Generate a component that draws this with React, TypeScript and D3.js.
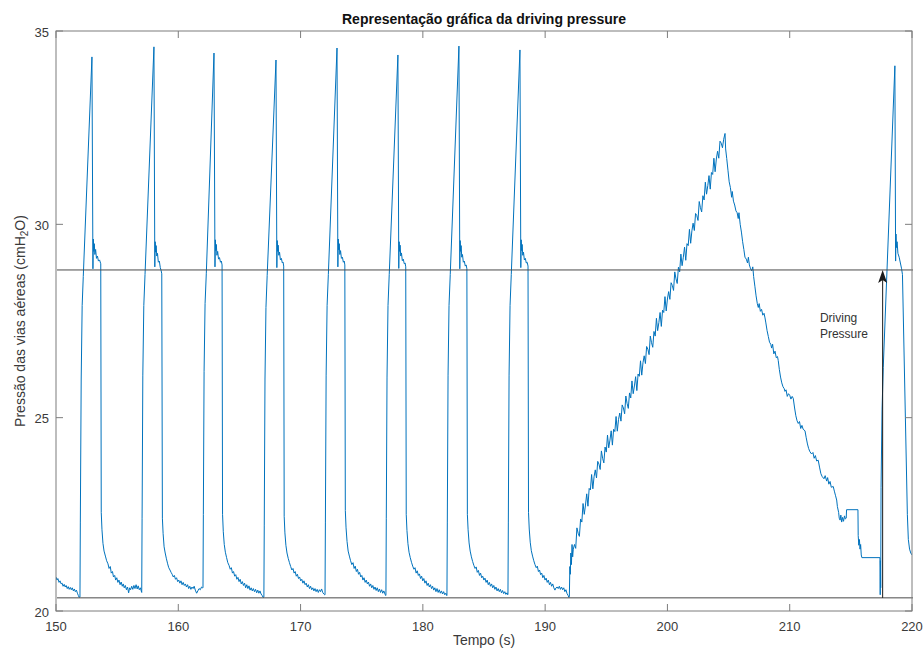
import React from 'react';
import * as d3 from 'd3';

// Airway pressure trace (time in s, pressure in cmH2O)
const preSegment: [number, number][] = [
  [150.0, 20.88], [150.08, 20.8], [150.15, 20.84], [150.25, 20.74], [150.33, 20.78], [150.42, 20.7], [150.5, 20.72],
  [150.58, 20.64], [150.67, 20.69], [150.75, 20.62], [150.83, 20.66], [150.92, 20.58], [151.0, 20.63], [151.08, 20.56],
  [151.17, 20.61], [151.25, 20.55], [151.33, 20.6], [151.42, 20.52], [151.5, 20.57], [151.58, 20.5], [151.67, 20.54],
  [151.75, 20.46], [151.83, 20.4], [151.9, 20.35], [151.94, 20.36],
];

const breath1: [number, number][] = [
  [151.96, 20.36], [151.99, 22.3], [152.06, 26.0], [152.14, 27.9], [152.23, 28.65], [152.94, 34.33], [153.02, 28.85],
  [153.05, 29.62], [153.09, 29.3], [153.13, 29.5], [153.18, 29.22], [153.24, 29.35], [153.31, 29.12], [153.39, 29.18],
  [153.47, 29.05], [153.56, 29.08], [153.66, 28.98], [153.7, 22.55], [153.76, 22.1], [153.84, 21.75], [153.93, 21.55],
  [154.04, 21.42], [154.14, 21.3], [154.25, 21.22], [154.34, 21.1], [154.44, 21.15], [154.52, 20.98], [154.62, 21.02],
  [154.7, 20.88], [154.8, 20.92], [154.88, 20.8], [154.97, 20.86], [155.06, 20.74], [155.15, 20.8], [155.24, 20.68],
  [155.33, 20.75], [155.42, 20.64], [155.5, 20.7], [155.58, 20.6], [155.67, 20.66], [155.76, 20.55], [155.85, 20.62],
  [155.94, 20.47], [156.02, 20.6], [156.1, 20.55], [156.19, 20.64], [156.28, 20.56], [156.37, 20.66], [156.46, 20.58],
  [156.55, 20.68], [156.64, 20.57], [156.72, 20.65], [156.81, 20.55], [156.9, 20.6], [156.97, 20.52],
];

const breath2: [number, number][] = [
  [157.01, 20.48], [157.04, 22.4], [157.1, 26.1], [157.18, 27.9], [157.28, 28.7], [158.01, 34.59], [158.08, 28.9],
  [158.11, 29.55], [158.15, 29.28], [158.19, 29.45], [158.24, 29.18], [158.3, 29.25], [158.37, 29.02], [158.45, 29.05],
  [158.53, 28.88], [158.6, 28.8], [158.65, 28.72], [158.7, 22.4], [158.76, 22.0], [158.84, 21.66], [158.93, 21.5],
  [159.03, 21.35], [159.13, 21.22], [159.22, 21.12], [159.32, 21.06], [159.41, 21.0], [159.5, 20.95], [159.59, 20.88],
  [159.68, 20.92], [159.77, 20.82], [159.86, 20.86], [159.95, 20.76], [160.04, 20.8], [160.13, 20.72], [160.22, 20.78],
  [160.31, 20.68], [160.4, 20.74], [160.49, 20.66], [160.58, 20.7], [160.67, 20.62], [160.76, 20.68], [160.85, 20.58],
  [160.94, 20.64], [161.03, 20.56], [161.12, 20.62], [161.21, 20.58], [161.3, 20.64], [161.39, 20.54], [161.5, 20.46],
  [161.6, 20.52], [161.7, 20.58], [161.8, 20.55], [161.9, 20.62], [161.99, 20.6],
];

const breath3: [number, number][] = [
  [162.02, 20.6], [162.05, 22.5], [162.11, 26.2], [162.19, 27.95], [162.29, 28.72], [162.92, 34.43], [163.0, 28.9],
  [163.03, 29.6], [163.07, 29.32], [163.11, 29.48], [163.16, 29.2], [163.22, 29.3], [163.29, 29.1], [163.37, 29.14],
  [163.45, 29.02], [163.52, 29.05], [163.58, 28.95], [163.62, 22.5], [163.68, 22.05], [163.76, 21.72], [163.85, 21.52],
  [163.95, 21.38], [164.05, 21.25], [164.15, 21.18], [164.25, 21.08], [164.34, 21.12], [164.43, 20.98], [164.52, 21.02],
  [164.61, 20.9], [164.7, 20.94], [164.79, 20.82], [164.88, 20.87], [164.97, 20.76], [165.06, 20.82], [165.15, 20.7],
  [165.24, 20.76], [165.33, 20.66], [165.42, 20.72], [165.51, 20.6], [165.6, 20.68], [165.69, 20.58], [165.78, 20.65],
  [165.87, 20.54], [165.96, 20.6], [166.05, 20.52], [166.14, 20.58], [166.23, 20.5], [166.32, 20.56], [166.41, 20.47],
  [166.5, 20.54], [166.59, 20.46], [166.68, 20.52], [166.77, 20.44], [166.86, 20.4], [166.94, 20.35],
];

const breath4: [number, number][] = [
  [167.0, 20.36], [167.03, 22.2], [167.09, 26.0], [167.17, 27.85], [167.27, 28.68], [167.99, 34.25], [168.06, 28.88],
  [168.09, 29.58], [168.13, 29.3], [168.17, 29.46], [168.22, 29.2], [168.28, 29.28], [168.35, 29.08], [168.43, 29.12],
  [168.51, 29.0], [168.57, 29.02], [168.62, 28.92], [168.66, 22.45], [168.72, 22.02], [168.8, 21.7], [168.89, 21.5],
  [168.99, 21.36], [169.09, 21.25], [169.19, 21.15], [169.29, 21.06], [169.38, 21.1], [169.47, 20.98], [169.56, 21.02],
  [169.65, 20.9], [169.74, 20.95], [169.83, 20.84], [169.92, 20.88], [170.01, 20.78], [170.1, 20.82], [170.19, 20.72],
  [170.28, 20.78], [170.37, 20.68], [170.46, 20.72], [170.55, 20.62], [170.64, 20.68], [170.73, 20.58], [170.82, 20.64],
  [170.91, 20.55], [171.0, 20.6], [171.09, 20.52], [171.18, 20.58], [171.27, 20.5], [171.36, 20.56], [171.45, 20.48],
  [171.54, 20.55], [171.63, 20.5], [171.72, 20.57], [171.81, 20.48], [171.9, 20.44], [171.97, 20.42],
];

const breath5: [number, number][] = [
  [172.0, 20.42], [172.03, 22.3], [172.09, 26.1], [172.17, 27.9], [172.27, 28.7], [172.98, 34.56], [173.05, 28.9],
  [173.08, 29.62], [173.12, 29.34], [173.16, 29.5], [173.21, 29.22], [173.27, 29.32], [173.34, 29.12], [173.42, 29.15],
  [173.5, 29.02], [173.57, 29.05], [173.62, 28.95], [173.66, 22.6], [173.72, 22.15], [173.8, 21.8], [173.89, 21.55],
  [173.99, 21.42], [174.09, 21.3], [174.19, 21.2], [174.29, 21.25], [174.38, 21.1], [174.47, 21.16], [174.56, 21.02],
  [174.65, 21.08], [174.74, 20.95], [174.83, 21.0], [174.92, 20.88], [175.01, 20.92], [175.1, 20.8], [175.19, 20.86],
  [175.28, 20.74], [175.37, 20.8], [175.46, 20.7], [175.55, 20.75], [175.64, 20.64], [175.73, 20.7], [175.82, 20.6],
  [175.91, 20.66], [176.0, 20.56], [176.09, 20.62], [176.18, 20.53], [176.27, 20.6], [176.36, 20.5], [176.45, 20.57],
  [176.54, 20.48], [176.63, 20.55], [176.72, 20.46], [176.81, 20.52], [176.9, 20.44], [176.96, 20.4],
];

const breath6: [number, number][] = [
  [176.98, 20.42], [177.01, 22.4], [177.07, 26.05], [177.15, 27.9], [177.25, 28.7], [177.96, 34.38], [178.03, 28.86],
  [178.06, 29.55], [178.1, 29.3], [178.14, 29.46], [178.19, 29.18], [178.25, 29.26], [178.32, 29.06], [178.4, 29.1],
  [178.48, 28.98], [178.55, 29.0], [178.6, 28.9], [178.64, 22.5], [178.7, 22.08], [178.78, 21.74], [178.87, 21.52],
  [178.97, 21.38], [179.07, 21.26], [179.17, 21.16], [179.27, 21.08], [179.36, 21.12], [179.45, 20.98], [179.54, 21.04],
  [179.63, 20.92], [179.72, 20.96], [179.81, 20.84], [179.9, 20.9], [179.99, 20.78], [180.08, 20.84], [180.17, 20.72],
  [180.26, 20.78], [180.35, 20.66], [180.44, 20.72], [180.53, 20.62], [180.62, 20.68], [180.71, 20.58], [180.8, 20.64],
  [180.89, 20.54], [180.98, 20.6], [181.07, 20.5], [181.16, 20.58], [181.25, 20.48], [181.34, 20.55], [181.43, 20.46],
  [181.52, 20.52], [181.61, 20.44], [181.7, 20.5], [181.79, 20.42], [181.88, 20.46], [181.95, 20.4],
];

const breath7: [number, number][] = [
  [181.97, 20.4], [182.0, 22.3], [182.06, 26.1], [182.14, 27.9], [182.24, 28.7], [182.95, 34.61], [183.02, 28.85],
  [183.05, 29.58], [183.09, 29.3], [183.13, 29.45], [183.18, 29.15], [183.24, 29.22], [183.31, 29.02], [183.39, 29.05],
  [183.47, 28.92], [183.54, 28.95], [183.6, 28.85], [183.64, 22.5], [183.7, 22.1], [183.78, 21.76], [183.87, 21.55],
  [183.97, 21.4], [184.07, 21.28], [184.17, 21.18], [184.27, 21.1], [184.36, 21.14], [184.45, 21.0], [184.54, 21.05],
  [184.63, 20.92], [184.72, 20.98], [184.81, 20.86], [184.9, 20.9], [184.99, 20.8], [185.08, 20.85], [185.17, 20.74],
  [185.26, 20.8], [185.35, 20.68], [185.44, 20.74], [185.53, 20.64], [185.62, 20.7], [185.71, 20.6], [185.8, 20.66],
  [185.89, 20.56], [185.98, 20.62], [186.07, 20.52], [186.16, 20.58], [186.25, 20.5], [186.34, 20.56], [186.43, 20.47],
  [186.52, 20.53], [186.61, 20.45], [186.7, 20.5], [186.79, 20.43], [186.88, 20.47], [186.94, 20.42],
];

const breath8: [number, number][] = [
  [186.96, 20.44], [186.99, 22.3], [187.05, 26.1], [187.13, 27.9], [187.23, 28.7], [187.94, 34.51], [188.01, 28.88],
  [188.04, 29.6], [188.08, 29.32], [188.12, 29.48], [188.17, 29.2], [188.23, 29.28], [188.3, 29.08], [188.38, 29.12],
  [188.46, 29.0], [188.53, 29.02], [188.6, 28.92], [188.64, 22.55], [188.7, 22.12], [188.78, 21.78], [188.87, 21.56],
  [188.97, 21.42], [189.07, 21.3], [189.17, 21.2], [189.27, 21.12], [189.36, 21.16], [189.45, 21.02], [189.54, 21.06],
  [189.63, 20.94], [189.72, 20.98], [189.81, 20.86], [189.9, 20.92], [189.99, 20.8], [190.08, 20.85], [190.17, 20.74],
  [190.26, 20.8], [190.35, 20.68], [190.44, 20.74], [190.53, 20.64], [190.62, 20.7], [190.71, 20.6], [190.8, 20.54],
  [190.89, 20.6], [190.98, 20.62], [191.07, 20.58], [191.16, 20.64], [191.25, 20.56], [191.34, 20.62], [191.43, 20.55],
  [191.52, 20.6], [191.61, 20.5], [191.7, 20.55], [191.79, 20.45], [191.88, 20.4], [191.95, 20.35],
];

// Slow inflation ramp (low-flow manoeuvre)
const slowRamp: [number, number][] = [
  [191.98, 20.37], [192.02, 21.15], [192.06, 20.95], [192.1, 21.5], [192.15, 21.2], [192.2, 21.72], [192.25, 21.4],
  [192.3, 21.6], [192.4, 21.72], [192.5, 21.62], [192.6, 22.15], [192.7, 22.01], [192.8, 21.93], [192.9, 22.38],
  [193.0, 22.3], [193.1, 22.78], [193.2, 22.5], [193.3, 22.74], [193.4, 23.03], [193.5, 22.71], [193.6, 23.17],
  [193.7, 23.13], [193.8, 23.53], [193.9, 23.16], [194.0, 23.47], [194.1, 23.65], [194.2, 23.44], [194.3, 23.87],
  [194.4, 23.8], [194.5, 23.66], [194.6, 24.14], [194.7, 23.95], [194.8, 23.83], [194.9, 24.24], [195.0, 24.11],
  [195.1, 24.55], [195.2, 24.22], [195.3, 24.42], [195.4, 24.66], [195.5, 24.29], [195.6, 24.7], [195.7, 24.64],
  [195.8, 25.03], [195.9, 24.65], [196.0, 24.95], [196.1, 25.12], [196.2, 24.91], [196.3, 25.33], [196.4, 25.25],
  [196.5, 25.1], [196.6, 25.56], [196.7, 25.37], [196.8, 25.24], [196.9, 25.64], [197.0, 25.51], [197.1, 25.95],
  [197.2, 25.62], [197.3, 25.82], [197.4, 26.06], [197.5, 25.7], [197.6, 26.13], [197.7, 26.07], [197.8, 26.47],
  [197.9, 26.1], [198.0, 26.42], [198.1, 26.6], [198.2, 26.4], [198.3, 26.84], [198.4, 26.77], [198.5, 26.63],
  [198.6, 27.11], [198.7, 26.94], [198.8, 26.82], [198.9, 27.23], [199.0, 27.11], [199.1, 27.57], [199.2, 27.25],
  [199.3, 27.46], [199.4, 27.72], [199.5, 27.36], [199.6, 27.78], [199.7, 27.72], [199.8, 28.13], [199.9, 27.76],
  [200.0, 28.07], [200.1, 28.26], [200.2, 28.06], [200.3, 28.49], [200.4, 28.42], [200.5, 28.29], [200.6, 28.77],
  [200.7, 28.59], [200.8, 28.47], [200.9, 28.89], [201.0, 28.77], [201.1, 29.23], [201.2, 28.93], [201.3, 29.15],
  [201.4, 29.41], [201.5, 29.07], [201.6, 29.5], [201.7, 29.45], [201.8, 29.87], [201.9, 29.51], [202.0, 29.83],
  [202.1, 30.03], [202.2, 29.84], [202.3, 30.28], [202.4, 30.23], [202.5, 30.1], [202.6, 30.59], [202.7, 30.43],
  [202.8, 30.32], [202.9, 30.74], [203.0, 30.63], [203.1, 31.09], [203.2, 30.78], [203.3, 31.0], [203.4, 31.26],
  [203.5, 30.91], [203.6, 31.34], [203.7, 31.29], [203.8, 31.71], [203.9, 31.36], [204.0, 31.69], [204.1, 31.89],
  [204.2, 31.71], [204.3, 32.15], [204.4, 32.1], [204.5, 31.98], [204.6, 32.2], [204.71, 32.35],
];

// Slow deflation after the ramp
const slowRelease: [number, number][] = [
  [204.76, 31.95], [204.85, 31.7], [204.95, 31.4], [205.05, 31.1], [205.15, 30.95], [205.25, 30.7], [205.3, 30.85],
  [205.4, 30.6], [205.5, 30.5], [205.6, 30.35], [205.7, 30.3], [205.79, 30.15], [205.85, 30.3], [205.95, 30.0],
  [206.05, 29.8], [206.15, 29.55], [206.25, 29.35], [206.34, 29.15], [206.45, 29.1], [206.55, 29.0], [206.62, 29.15],
  [206.7, 28.95], [206.8, 28.85], [206.89, 28.8], [206.98, 28.9], [207.05, 28.65], [207.15, 28.4], [207.25, 28.15],
  [207.35, 27.95], [207.43, 27.85], [207.5, 27.95], [207.6, 27.75], [207.7, 27.8], [207.8, 27.65], [207.9, 27.7],
  [207.98, 27.58], [208.05, 27.45], [208.15, 27.25], [208.25, 27.1], [208.35, 26.95], [208.45, 26.9], [208.52, 26.8],
  [208.6, 26.9], [208.7, 26.65], [208.8, 26.72], [208.9, 26.55], [209.0, 26.58], [209.06, 26.48], [209.15, 26.25],
  [209.25, 26.05], [209.35, 25.9], [209.45, 25.8], [209.55, 25.75], [209.61, 25.68], [209.7, 25.72], [209.8, 25.55],
  [209.9, 25.62], [210.0, 25.58], [210.1, 25.48], [210.2, 25.55], [210.29, 25.5], [210.4, 25.25], [210.5, 25.05],
  [210.6, 24.92], [210.7, 24.85], [210.8, 24.9], [210.9, 24.72], [211.0, 24.8], [211.1, 24.7], [211.25, 24.66],
  [211.35, 24.48], [211.45, 24.32], [211.55, 24.2], [211.65, 24.12], [211.79, 24.06], [211.9, 24.1], [212.0, 23.95],
  [212.1, 24.02], [212.2, 23.88], [212.33, 23.9], [212.45, 23.7], [212.55, 23.55], [212.65, 23.48], [212.8, 23.42],
  [212.9, 23.5], [213.02, 23.36], [213.1, 23.45], [213.2, 23.28], [213.3, 23.35], [213.4, 23.2], [213.56, 23.22],
  [213.65, 23.1], [213.75, 22.98], [213.84, 22.87], [213.9, 22.7], [214.0, 22.55], [214.05, 22.4], [214.12, 22.35],
  [214.18, 22.48], [214.25, 22.3], [214.32, 22.42], [214.4, 22.32], [214.48, 22.46], [214.55, 22.38], [214.62, 22.4],
  [214.65, 22.62], [215.58, 22.62], [215.6, 21.95], [215.65, 21.7], [215.7, 21.85], [215.75, 21.6], [215.8, 21.72],
  [215.85, 21.45], [215.9, 21.38], [217.38, 21.38],
];

const lastBreath: [number, number][] = [
  [217.4, 20.42], [217.42, 21.3], [217.44, 20.6], [217.47, 23.2], [217.55, 25.2], [217.65, 26.3], [218.6, 34.1],
  [218.66, 29.05], [218.69, 29.75], [218.73, 29.4], [218.78, 29.55], [218.85, 29.25], [218.95, 29.15], [219.05, 29.0],
  [219.15, 28.85], [219.22, 28.7], [219.62, 22.5], [219.7, 21.85], [219.8, 21.6], [219.9, 21.5], [220.0, 21.45],
];

const xTicks = [150, 160, 170, 180, 190, 200, 210, 220];
const yTicks = [20, 25, 30, 35];

// Reference levels: plateau pressure and PEEP
const plateauLevel = 28.82;
const peepLevel = 20.34;
const arrowTime = 217.6;

const titleText = 'Representação gráfica da driving pressure';
const xLabel = 'Tempo (s)';
const annotationLines = ['Driving', 'Pressure'];

const W = 923;
const H = 651;
const margin = { left: 56, right: 11, top: 31, bottom: 40 };

export default function App() {
  const x = d3.scaleLinear().domain([150, 220]).range([margin.left, W - margin.right]);
  const y = d3.scaleLinear().domain([20, 35]).range([H - margin.bottom, margin.top]);

  const trace = [
    ...preSegment, ...breath1, ...breath2, ...breath3, ...breath4, ...breath5,
    ...breath6, ...breath7, ...breath8, ...slowRamp, ...slowRelease, ...lastBreath,
  ];
  const line = d3.line<[number, number]>().x((d) => x(d[0])).y((d) => y(d[1]));

  const x0 = x(150);
  const x1 = x(220);
  const yTop = y(35);
  const yBot = y(20);
  const tickLen = 7;
  const axisColor = '#7d7d7d';
  const textColor = '#3a3a3a';
  const font = 'Liberation Sans, Arial, Helvetica, sans-serif';

  const ax = x(arrowTime);
  const aTop = y(plateauLevel);
  const aBot = y(peepLevel);

  return (
    <svg width={W} height={H} style={{ position: 'absolute', left: 0, top: 0, background: '#fff' }} fontFamily={font}>
      <defs>
        <clipPath id="plotArea">
          <rect x={x0} y={yTop} width={x1 - x0} height={yBot - yTop} />
        </clipPath>
      </defs>
      <rect x={0} y={0} width={W} height={H} fill="#fff" />

      <g clipPath="url(#plotArea)">
        <path d={line(trace) || ''} fill="none" stroke="#0072BD" strokeWidth={1} strokeLinejoin="round" />
      </g>

      {/* plateau and PEEP reference lines */}
      {[plateauLevel, peepLevel].map((v) => (
        <line key={v} x1={x0 + 1} x2={x1 + 1} y1={y(v)} y2={y(v)} stroke="#4a4a4a" strokeWidth={1} />
      ))}

      {/* driving pressure arrow */}
      <line x1={ax} x2={ax} y1={aBot} y2={aTop + 8} stroke="#1a1a1a" strokeWidth={1} />
      <path
        d={`M${ax},${aTop} L${ax + 4.5},${aTop + 13} L${ax},${aTop + 10} L${ax - 4.5},${aTop + 13} Z`}
        fill="#1a1a1a"
      />
      <text x={x(212.47)} y={y(27.47)} fontSize={12} fill="#333">
        {annotationLines[0]}
      </text>
      <text x={x(212.47)} y={y(27.47) + 15.5} fontSize={12} fill="#333">
        {annotationLines[1]}
      </text>

      {/* axes box */}
      <rect x={x0} y={yTop} width={x1 - x0} height={yBot - yTop} fill="none" stroke={axisColor} strokeWidth={1} />
      {xTicks.map((t) => (
        <g key={'x' + t}>
          <line x1={x(t)} x2={x(t)} y1={yBot} y2={yBot - tickLen} stroke={axisColor} />
          <line x1={x(t)} x2={x(t)} y1={yTop} y2={yTop + tickLen} stroke={axisColor} />
          <text x={x(t)} y={yBot + 20} fontSize={13} textAnchor="middle" fill={textColor}>
            {t}
          </text>
        </g>
      ))}
      {yTicks.map((v) => (
        <g key={'y' + v}>
          <line x1={x0} x2={x0 + tickLen} y1={y(v)} y2={y(v)} stroke={axisColor} />
          <line x1={x1} x2={x1 - tickLen} y1={y(v)} y2={y(v)} stroke={axisColor} />
          <text x={x0 - 7} y={y(v) + 5.5} fontSize={13} textAnchor="end" fill={textColor}>
            {v}
          </text>
        </g>
      ))}

      <text x={(x0 + x1) / 2} y={24} fontSize={14} fontWeight="bold" textAnchor="middle" fill="#111">
        {titleText}
      </text>
      <text x={(x0 + x1) / 2} y={645} fontSize={14} textAnchor="middle" fill={textColor}>
        {xLabel}
      </text>
      <text transform={`translate(25, ${(yTop + yBot) / 2}) rotate(-90)`} fontSize={14} textAnchor="middle" fill={textColor}>
        Pressão das vias aéreas (cmH<tspan dy={3} fontSize={10}>2</tspan>
        <tspan dy={-3}>O)</tspan>
      </text>
    </svg>
  );
}
